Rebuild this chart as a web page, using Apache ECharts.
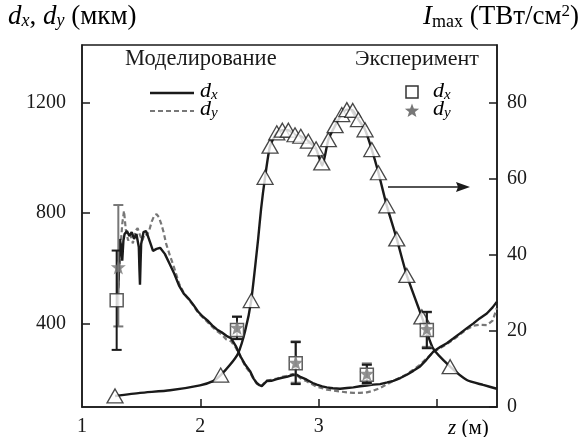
<!DOCTYPE html>
<html><head><meta charset="utf-8">
<script src="https://cdn.jsdelivr.net/npm/echarts@6/dist/echarts.min.js"></script>
<style>html,body{margin:0;padding:0;background:#fff}#c{width:583px;height:437px}</style>
</head><body><div id="c"></div>
<script>
// ---- tick values ----
const xTickLabels = [1, 2, 3];
const xTicks = [2, 3, 4];
const leftTicks = [400, 800, 1200];
const rightTicks = [0, 20, 40, 60, 80];

// ---- I_max (right axis, TW/cm^2) ----
const imaxLine = [[1.279,2.9],[1.49,3.7],[1.744,4.4],[1.997,5.7],[2.107,6.8],[2.172,8.4],[2.251,11.1],[2.319,14.1],[2.378,19.9],[2.43,28],[2.488,44],[2.513,52],[2.547,60.4],[2.589,68.6],[2.646,72.1],[2.693,72.8],[2.744,72.8],[2.80,71.6],[2.849,71.2],[2.913,69.9],[2.978,67.9],[3.03,63.5],[3.082,70.3],[3.139,74.0],[3.195,76.9],[3.238,78.2],[3.288,78.0],[3.336,75.6],[3.392,72.9],[3.449,67.7],[3.505,61.6],[3.576,52.9],[3.660,44.2],[3.745,34.6],[3.872,23.7],[3.967,15.4],[4.111,10.6],[4.252,7.1],[4.39,5.8],[4.505,4.8]];
const imaxMarkers = [[1.279,2.9],[2.172,8.4],[2.43,28],[2.547,60.4],[2.589,68.6],[2.646,72.1],[2.693,72.8],[2.744,72.8],[2.80,71.6],[2.849,71.2],[2.913,69.9],[2.978,67.9],[3.026,64.2],[3.082,70.3],[3.139,74.0],[3.195,76.9],[3.238,78.2],[3.288,78.0],[3.336,75.6],[3.392,72.9],[3.449,67.7],[3.505,61.6],[3.576,52.9],[3.660,44.2],[3.745,34.6],[3.872,23.7],[4.111,10.6]];

// ---- simulation d_x, d_y (left axis, µm) ----
const dxSim = [[1.30,490],[1.31,560],[1.32,706],[1.33,680],[1.34,627],[1.35,700],[1.36,724],[1.38,735],[1.40,717],[1.42,731],[1.44,706],[1.46,724],[1.48,677],[1.485,600],[1.49,540],[1.495,620],[1.50,688],[1.52,731],[1.54,735],[1.56,713],[1.58,688],[1.60,663],[1.63,670],[1.66,674],[1.70,652],[1.74,616],[1.78,580],[1.82,537],[1.86,508],[1.90,490],[1.94,468],[1.98,443],[2.02,425],[2.06,411],[2.10,393],[2.14,378],[2.18,368],[2.22,355],[2.26,346],[2.30,318],[2.34,280],[2.38,250],[2.42,227],[2.45,200],[2.477,184],[2.50,176],[2.519,173],[2.54,182],[2.561,191],[2.60,192],[2.646,198],[2.69,203],[2.73,206],[2.78,213],[2.815,214],[2.85,205],[2.899,196],[2.95,184],[2.984,178],[3.03,172],[3.068,168],[3.12,165],[3.181,163],[3.24,166],[3.293,168],[3.35,172],[3.407,175],[3.46,178],[3.519,180],[3.58,186],[3.631,192],[3.69,202],[3.745,214],[3.80,228],[3.857,244],[3.91,268],[3.97,298],[4.03,315],[4.083,328],[4.14,346],[4.195,364],[4.25,382],[4.308,400],[4.36,418],[4.421,436],[4.47,458],[4.505,478]];
const dySim = [[1.30,470],[1.32,640],[1.34,760],[1.355,808],[1.37,740],[1.39,700],[1.41,720],[1.43,690],[1.45,735],[1.47,745],[1.49,720],[1.51,700],[1.53,725],[1.55,720],[1.57,740],[1.59,770],[1.61,790],[1.63,796],[1.65,785],[1.67,760],[1.69,730],[1.71,690],[1.74,650],[1.78,600],[1.82,545],[1.86,510],[1.90,488],[1.94,465],[1.98,440],[2.02,422],[2.06,405],[2.10,388],[2.14,372],[2.18,360],[2.22,342],[2.26,335],[2.30,312],[2.34,278],[2.38,245],[2.42,222],[2.45,198],[2.477,182],[2.50,175],[2.519,174],[2.54,184],[2.561,193],[2.60,195],[2.646,200],[2.69,206],[2.73,210],[2.78,216],[2.815,212],[2.85,200],[2.899,190],[2.95,178],[2.984,170],[3.03,165],[3.068,160],[3.12,157],[3.181,153],[3.24,150],[3.293,148],[3.35,148],[3.407,150],[3.46,156],[3.519,166],[3.58,180],[3.631,192],[3.69,204],[3.745,216],[3.80,232],[3.857,250],[3.91,272],[3.97,296],[4.03,312],[4.083,325],[4.14,342],[4.195,360],[4.25,378],[4.308,392],[4.36,395],[4.421,394],[4.47,410],[4.505,455]];

// ---- experiment ----
const expDxZ = [1.293, 2.31, 2.806, 3.407, 3.914];
const expDx = [484, 376, 256, 214, 376];
const expDxLow = [304, 343, 180, 184, 310];
const expDxHigh = [664, 424, 332, 250, 442];
const expDyZ = [1.307, 2.31, 2.806, 3.407, 3.914];
const expDy = [604, 385, 258, 218, 380];
const expDyLow = [389, 345, 185, 180, 315];
const expDyHigh = [829, 425, 335, 255, 440];

const FONT = '"Liberation Serif", "Times New Roman", serif';
const INK = '#1a1a1a';
const GRAY = '#777';
const STAR = 'path://M0,-10 L2.35,-3.24 L9.51,-3.09 L3.8,1.24 L5.88,8.09 L0,4 L-5.88,8.09 L-3.8,1.24 L-9.51,-3.09 L-2.35,-3.24 Z';

function errRender(color) {
  return function (params, api) {
    const x = api.value(0), lo = api.value(1), hi = api.value(2);
    const p1 = api.coord([x, lo]), p2 = api.coord([x, hi]);
    const w = 5;
    const st = { stroke: color, lineWidth: 2 };
    return { type: 'group', children: [
      { type: 'line', shape: { x1: p1[0], y1: p1[1], x2: p2[0], y2: p2[1] }, style: st },
      { type: 'line', shape: { x1: p1[0] - w, y1: p1[1], x2: p1[0] + w, y2: p1[1] }, style: st },
      { type: 'line', shape: { x1: p2[0] - w, y1: p2[1], x2: p2[0] + w, y2: p2[1] }, style: st }
    ]};
  };
}

function mkRich(fs) {
  const sub = Math.round(fs * 0.66);
  return {
    i: { fontFamily: FONT, fontSize: fs, fontStyle: 'italic', color: INK, lineHeight: fs + 1 },
    n: { fontFamily: FONT, fontSize: fs, color: INK, lineHeight: fs + 1 },
    si: { fontFamily: FONT, fontSize: sub, fontStyle: 'italic', color: INK, lineHeight: Math.round(fs * 0.45), verticalAlign: 'bottom' },
    sn: { fontFamily: FONT, fontSize: sub, color: INK, lineHeight: Math.round(fs * 0.45), verticalAlign: 'bottom' },
    sup: { fontFamily: FONT, fontSize: Math.round(fs * 0.62), color: INK, lineHeight: Math.round(fs * 0.75), verticalAlign: 'top' }
  };
}
const richT = mkRich(27);
const richL = mkRich(22);

function starPts(cx, cy, r) {
  const pts = [];
  for (let k = 0; k < 10; k++) {
    const a = -Math.PI / 2 + k * Math.PI / 5;
    const rr = k % 2 ? r * 0.42 : r;
    pts.push([cx + rr * Math.cos(a), cy + rr * Math.sin(a)]);
  }
  return pts;
}

const numFmt = v => String(v);

const chart = echarts.init(document.getElementById('c'));
chart.setOption({
  animation: false,
  backgroundColor: '#fff',
  grid: { left: 82, right: 86, top: 45, bottom: 28, show: true, borderColor: INK, borderWidth: 1.5, backgroundColor: 'transparent' },
  xAxis: {
    type: 'value', min: 1, max: 4.507,
    axisLine: { show: true, onZero: false, lineStyle: { color: INK, width: 1.5 } },
    axisTick: { show: true, inside: true, length: 8, customValues: xTicks, lineStyle: { color: INK, width: 1.5 } },
    axisLabel: { customValues: xTickLabels, formatter: numFmt, margin: 10, fontFamily: FONT, fontSize: 20, color: INK },
    splitLine: { show: false }
  },
  yAxis: [{
    type: 'value', min: 97, max: 1409, position: 'left',
    axisLine: { show: true, lineStyle: { color: INK, width: 1.5 } },
    axisTick: { show: true, inside: true, length: 8, customValues: leftTicks, lineStyle: { color: INK, width: 1.5 } },
    axisLabel: { customValues: leftTicks, formatter: numFmt, margin: 16, fontFamily: FONT, fontSize: 20, color: INK },
    splitLine: { show: false }
  }, {
    type: 'value', min: 0, max: 95.2, position: 'right',
    axisLine: { show: true, lineStyle: { color: INK, width: 1.5 } },
    axisTick: { show: true, inside: true, length: 8, customValues: rightTicks, lineStyle: { color: INK, width: 1.5 } },
    axisLabel: { customValues: rightTicks, formatter: numFmt, margin: 10, fontFamily: FONT, fontSize: 20, color: INK },
    splitLine: { show: false }
  }],
  series: [
    { type: 'line', yAxisIndex: 0, data: dySim, showSymbol: false, lineStyle: { color: GRAY, width: 2.2, type: [5, 3] }, z: 2 },
    { type: 'line', yAxisIndex: 0, data: dxSim, showSymbol: false, lineStyle: { color: INK, width: 2.4 }, z: 3 },
    { type: 'line', yAxisIndex: 1, data: imaxLine, showSymbol: false, smooth: 0.2, lineStyle: { color: INK, width: 2.4 }, z: 3 },
    { type: 'scatter', yAxisIndex: 1, data: imaxMarkers, symbol: 'triangle', symbolSize: [16, 14], itemStyle: { color: '#fff', borderColor: INK, borderWidth: 1.3 }, z: 4 },
    { type: 'custom', yAxisIndex: 0, data: expDyZ.map((z, i) => [z, expDyLow[i], expDyHigh[i]]), renderItem: errRender(GRAY), encode: { x: 0, y: [1, 2] }, z: 5 },
    { type: 'custom', yAxisIndex: 0, data: expDxZ.map((z, i) => [z, expDxLow[i], expDxHigh[i]]), renderItem: errRender(INK), encode: { x: 0, y: [1, 2] }, z: 6 },
    { type: 'scatter', yAxisIndex: 0, data: expDxZ.map((z, i) => [z, expDx[i]]), symbol: 'rect', symbolSize: 13, itemStyle: { color: '#fff', borderColor: '#333', borderWidth: 1.5 }, z: 7 },
    { type: 'scatter', yAxisIndex: 0, data: expDyZ.map((z, i) => [z, expDy[i]]), symbol: STAR, symbolSize: 15, itemStyle: { color: GRAY }, z: 8 }
  ],
  graphic: [
    { type: 'text', left: 8, top: 3, style: { text: '{i|d}{si|x}{n|, }{i|d}{si|y}{n| (мкм)}', rich: richT } },
    { type: 'text', right: 4, top: 3, style: { text: '{i|I}{sn|max}{n| (ТВт/см}{sup|2}{n|)}', rich: richT } },
    { type: 'text', left: 448, top: 418, style: { text: '{i|z}{n| (м)}', rich: mkRich(21) } },
    { type: 'text', left: 125, top: 48, style: { text: 'Моделирование', fontFamily: FONT, fontSize: 22.5, fill: INK } },
    { type: 'text', left: 355, top: 48, style: { text: 'Эксперимент', fontFamily: FONT, fontSize: 22, fill: INK } },
    { type: 'line', shape: { x1: 150, y1: 93, x2: 194, y2: 93 }, style: { stroke: INK, lineWidth: 2.4 } },
    { type: 'line', shape: { x1: 150, y1: 111, x2: 194, y2: 111 }, style: { stroke: GRAY, lineWidth: 2.2, lineDash: [5, 3] } },
    { type: 'text', left: 200, top: 80, style: { text: '{i|d}{si|x}', rich: richL } },
    { type: 'text', left: 200, top: 98, style: { text: '{i|d}{si|y}', rich: richL } },
    { type: 'rect', shape: { x: 406, y: 86, width: 12, height: 12 }, style: { fill: '#fff', stroke: '#333', lineWidth: 1.5 } },
    { type: 'polygon', shape: { points: starPts(412, 111, 7.5) }, style: { fill: GRAY } },
    { type: 'text', left: 433, top: 80, style: { text: '{i|d}{si|x}', rich: richL } },
    { type: 'text', left: 433, top: 98, style: { text: '{i|d}{si|y}', rich: richL } },
    { type: 'line', shape: { x1: 388, y1: 187, x2: 460, y2: 187 }, style: { stroke: INK, lineWidth: 1.5 } },
    { type: 'polygon', shape: { points: [[470, 187], [456, 182], [458, 187], [456, 192]] }, style: { fill: INK } }
  ]
});
</script>
</body></html>
